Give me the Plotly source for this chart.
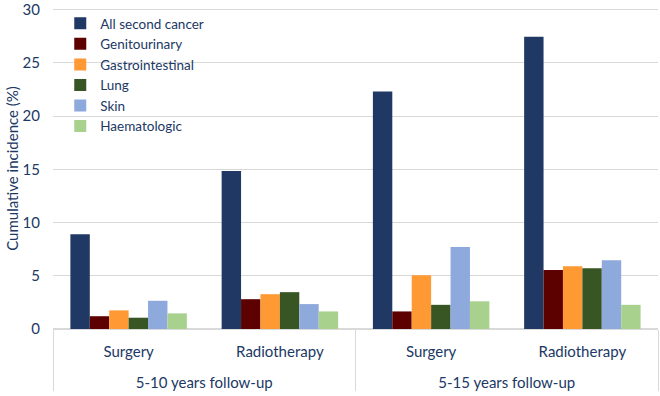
import plotly.graph_objects as go

follow_up = ["5-10 years follow-up", "5-10 years follow-up", "5-15 years follow-up", "5-15 years follow-up"]
treatment = ["Surgery", "Radiotherapy", "Surgery", "Radiotherapy"]

all_second = [8.9, 14.85, 22.3, 27.45]
genitourinary = [1.2, 2.8, 1.65, 5.55]
gastrointestinal = [1.75, 3.27, 5.05, 5.9]
lung = [1.06, 3.46, 2.27, 5.7]
skin = [2.65, 2.34, 7.7, 6.45]
haematologic = [1.47, 1.65, 2.6, 2.27]

series = [
    ("All second cancer", all_second, "#203864"),
    ("Genitourinary", genitourinary, "#5C0000"),
    ("Gastrointestinal", gastrointestinal, "#FF9933"),
    ("Lung", lung, "#375623"),
    ("Skin", skin, "#8EA9DB"),
    ("Haematologic", haematologic, "#A9D18E"),
]

text_color = "#203864"
font_family = "Lato, 'Open Sans', sans-serif"

# blank second line under each inner label pushes the outer label row down
treatment_labels = [t + "<br>\u00a0" for t in treatment]

fig = go.Figure()
for name, vals, color in series:
    fig.add_trace(go.Bar(
        name=name,
        x=[follow_up, treatment_labels],
        y=vals,
        marker=dict(color=color, line=dict(width=0)),
    ))

fig.update_layout(
    width=660, height=396,
    barmode="group",
    bargap=0.23,
    bargroupgap=0,
    plot_bgcolor="white",
    paper_bgcolor="white",
    margin=dict(l=53, r=2, t=8, b=67, autoexpand=False),
    font=dict(family=font_family, color=text_color, size=14),
    legend=dict(
        x=0.012, y=1.0, xanchor="left", yanchor="top",
        bgcolor="rgba(0,0,0,0)",
        font=dict(size=13.5, color=text_color),
        tracegroupgap=0,
    ),
    showlegend=True,
)

fig.update_yaxes(
    range=[0, 30.15],
    tickvals=[0, 5, 10, 15, 20, 25, 30],
    automargin=False,
    showgrid=True,
    gridcolor="#D9D9D9",
    gridwidth=1,
    zeroline=True,
    zerolinecolor="#D9D9D9",
    showline=False,
    ticks="",
    ticklabelstandoff=12,
    ticklabeloverflow="allow",
    tickfont=dict(size=15, color=text_color),
    title=dict(text="Cumulative incidence (%)", font=dict(size=15, color=text_color), standoff=0),
)

fig.update_xaxes(
    type="multicategory",
    automargin=False,
    showline=True,
    linecolor="#D9D9D9",
    showgrid=False,
    ticks="",
    showdividers=True,
    dividercolor="#D9D9D9",
    dividerwidth=1,
    ticklabelstandoff=9,
    ticklabeloverflow="allow",
    tickfont=dict(size=15, color=text_color),
)

fig.write_html(
    "out.html",
    config={"displayModeBar": False},
    post_script="document.body.style.margin='0';",
)
